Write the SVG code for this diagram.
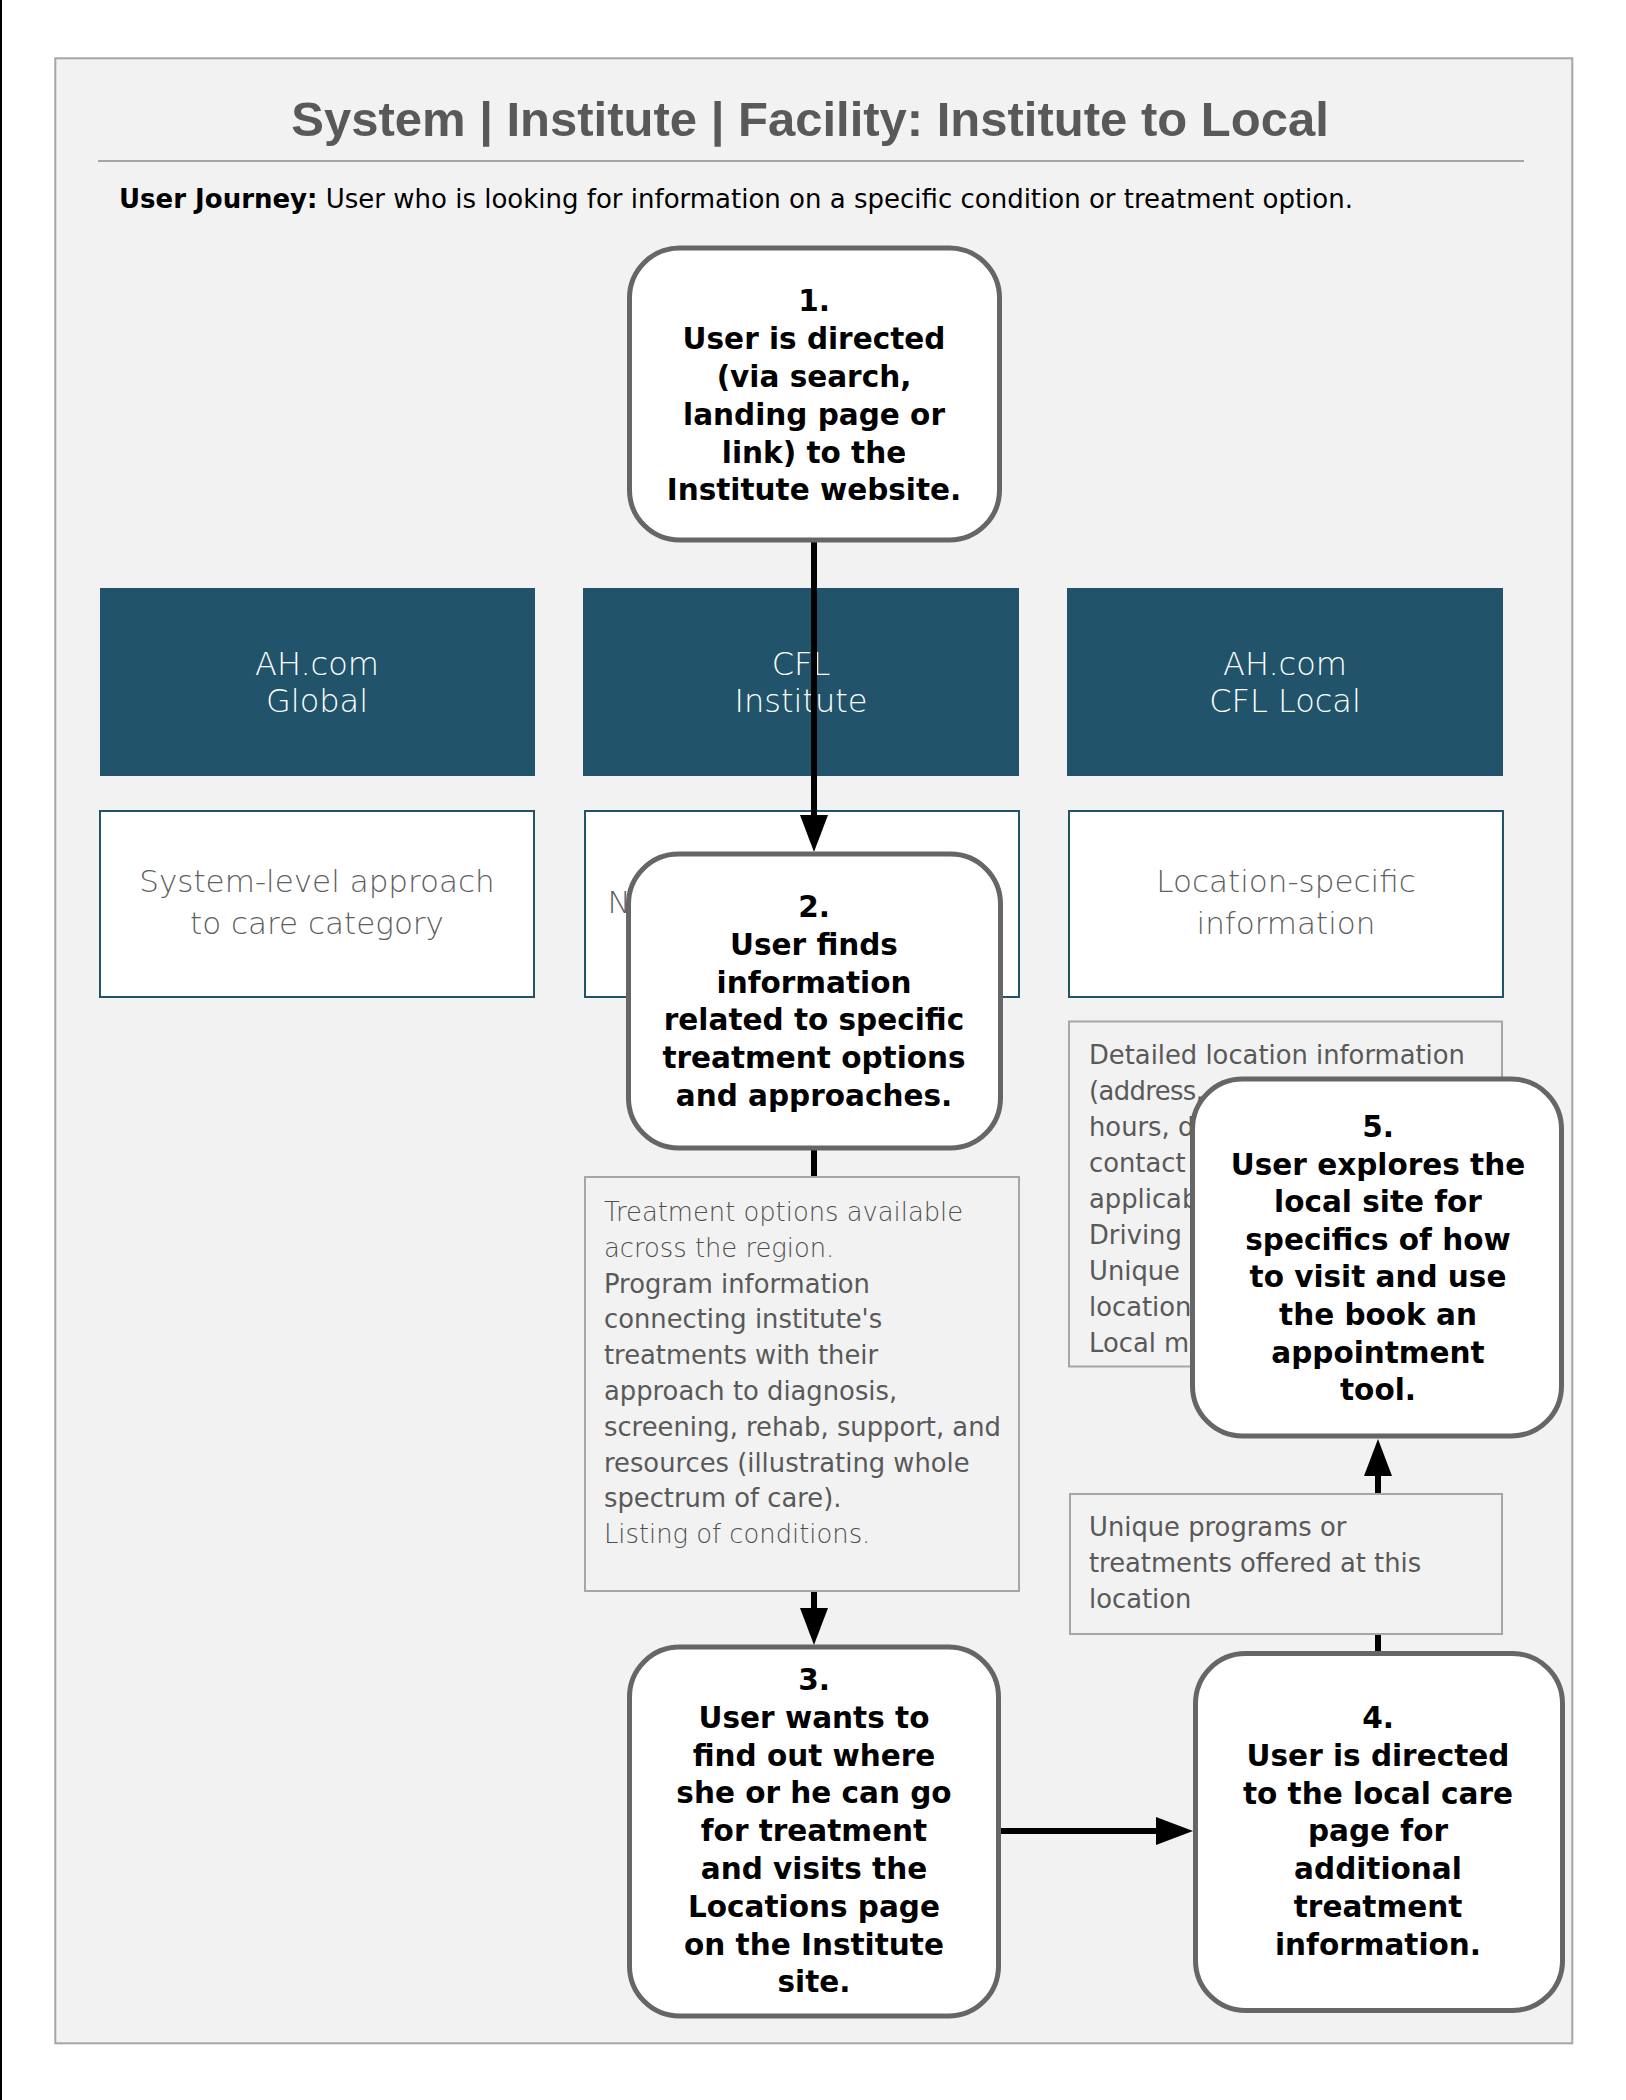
<svg xmlns="http://www.w3.org/2000/svg" width="1626" height="2100" viewBox="0 0 1626 2100">
<style>
  .frame{fill:#f2f2f2;stroke:#a6a6a6;stroke-width:2}
  .title{font-family:"Liberation Sans",Arial,sans-serif;font-weight:bold;font-size:49px;fill:#595959}
  .journey{font-family:"DejaVu Sans",sans-serif;font-size:26px;fill:#000}
  .hdr{fill:#21546b}
  .hdrtxt{font-family:"DejaVu Sans",sans-serif;font-weight:300;font-size:32px;fill:#fff;text-anchor:middle}
  .desc{fill:#fff;stroke:#21546b;stroke-width:2}
  .desctxt{font-family:"DejaVu Sans",sans-serif;font-weight:300;font-size:31px;fill:#5f5f5f;text-anchor:middle}
  .gbox{fill:#f2f2f2;stroke:#a6a6a6;stroke-width:2}
  .gtxt{font-family:"DejaVu Sans",sans-serif;font-size:25.8px;fill:#595959}
  .light{font-weight:300;fill:#4f4f4f}
  .step{fill:#fff;stroke:#666;stroke-width:5}
  .steptxt{font-family:"DejaVu Sans",sans-serif;font-weight:bold;font-size:29.5px;fill:#000;text-anchor:middle}
  .conn{stroke:#000;stroke-width:6;fill:none}
</style>
<defs>
  <marker id="arrow" markerUnits="userSpaceOnUse" markerWidth="38" markerHeight="30" refX="0" refY="14" orient="auto" viewBox="0 0 38 28">
    <path d="M0,0 L37,14 L0,28 Z" fill="#000"/>
  </marker>
</defs>

<rect x="0" y="0" width="2" height="2100" fill="#000"/>
<rect class="frame" x="55.3" y="58.3" width="1517" height="1985"/>

<g id="title">
  <text class="title" x="810" y="136" text-anchor="middle">System | Institute | Facility: Institute to Local</text>
  <line x1="98" y1="161" x2="1524" y2="161" stroke="#a6a6a6" stroke-width="2"/>
  <text class="journey" x="119" y="208"><tspan font-weight="bold">User Journey:</tspan> User who is looking for information on a specific condition or treatment option.</text>
</g>

<g id="col-global">
  <rect class="hdr" x="100" y="588" width="435" height="188"/>
  <text class="hdrtxt" x="317" y="675">AH.com</text>
  <text class="hdrtxt" x="317" y="712">Global</text>
</g>
<g id="col-institute">
  <rect class="hdr" x="583" y="588" width="436" height="188"/>
  <text class="hdrtxt" x="801" y="675">CFL</text>
  <text class="hdrtxt" x="801" y="712">Institute</text>
</g>
<g id="col-local">
  <rect class="hdr" x="1067" y="588" width="436" height="188"/>
  <text class="hdrtxt" x="1285" y="675">AH.com</text>
  <text class="hdrtxt" x="1285" y="712">CFL Local</text>
</g>

<g id="desc-global">
  <rect class="desc" x="100" y="811" width="434" height="186"/>
  <text class="desctxt" x="317" y="892">System-level approach</text>
  <text class="desctxt" x="317" y="934">to care category</text>
</g>
<g id="desc-institute">
  <rect class="desc" x="585" y="811" width="434" height="186"/>
  <text class="desctxt" x="619" y="913" text-anchor="start">N</text>
</g>
<g id="desc-local">
  <rect class="desc" x="1069" y="811" width="434" height="186"/>
  <text class="desctxt" x="1286" y="892">Location-specific</text>
  <text class="desctxt" x="1286" y="934">information</text>
</g>

<g id="connectors">
  <line class="conn" x1="814" y1="542" x2="814" y2="815" marker-end="url(#arrow)"/>
  <line class="conn" x1="814" y1="1148" x2="814" y2="1608" marker-end="url(#arrow)"/>
  <line class="conn" x1="1001" y1="1831" x2="1156" y2="1831" marker-end="url(#arrow)"/>
  <line class="conn" x1="1378" y1="1651" x2="1378" y2="1476" marker-end="url(#arrow)"/>
</g>

<g id="treatment-info">
  <rect class="gbox" x="585" y="1177" width="434" height="414"/>
  <text class="gtxt light" x="604" y="1221">Treatment options available</text>
  <text class="gtxt light" x="604" y="1256.8">across the region.</text>
  <text class="gtxt" x="604" y="1292.6">Program information</text>
  <text class="gtxt" x="604" y="1328.4">connecting institute's</text>
  <text class="gtxt" x="604" y="1364.2">treatments with their</text>
  <text class="gtxt" x="604" y="1400">approach to diagnosis,</text>
  <text class="gtxt" x="604" y="1435.8">screening, rehab, support, and</text>
  <text class="gtxt" x="604" y="1471.6">resources (illustrating whole</text>
  <text class="gtxt" x="604" y="1507.4">spectrum of care).</text>
  <text class="gtxt light" x="604" y="1543.2">Listing of conditions.</text>
</g>

<g id="location-info">
  <rect class="gbox" x="1069" y="1021.5" width="433" height="345"/>
  <text class="gtxt" x="1089" y="1064">Detailed location information</text>
  <text class="gtxt" x="1089" y="1100" letter-spacing="-0.6">(address, p</text>
  <text class="gtxt" x="1089" y="1136">hours, d</text>
  <text class="gtxt" x="1089" y="1172">contact</text>
  <text class="gtxt" x="1089" y="1208">applicab</text>
  <text class="gtxt" x="1089" y="1244">Driving d</text>
  <text class="gtxt" x="1089" y="1280">Unique</text>
  <text class="gtxt" x="1089" y="1316">location</text>
  <text class="gtxt" x="1089" y="1352">Local m</text>
</g>

<g id="unique-programs">
  <rect class="gbox" x="1070" y="1494" width="432" height="140"/>
  <text class="gtxt" x="1089" y="1536">Unique programs or</text>
  <text class="gtxt" x="1089" y="1572">treatments offered at this</text>
  <text class="gtxt" x="1089" y="1608">location</text>
</g>

<g id="step1">
  <rect class="step" x="629.5" y="248" width="370" height="292" rx="50"/>
  <text class="steptxt" x="814" y="311.4">1.</text>
  <text class="steptxt" x="814" y="349.2">User is directed</text>
  <text class="steptxt" x="814" y="387">(via search,</text>
  <text class="steptxt" x="814" y="424.8">landing page or</text>
  <text class="steptxt" x="814" y="462.6">link) to the</text>
  <text class="steptxt" x="814" y="500.4">Institute website.</text>
</g>

<g id="step2">
  <rect class="step" x="628.5" y="854" width="372" height="294" rx="50"/>
  <text class="steptxt" x="814" y="917">2.</text>
  <text class="steptxt" x="814" y="954.8">User finds</text>
  <text class="steptxt" x="814" y="992.6">information</text>
  <text class="steptxt" x="814" y="1030.4">related to specific</text>
  <text class="steptxt" x="814" y="1068.2">treatment options</text>
  <text class="steptxt" x="814" y="1106">and approaches.</text>
</g>

<g id="step3">
  <rect class="step" x="629.5" y="1647" width="369" height="369" rx="50"/>
  <text class="steptxt" x="814" y="1690">3.</text>
  <text class="steptxt" x="814" y="1727.8">User wants to</text>
  <text class="steptxt" x="814" y="1765.6">find out where</text>
  <text class="steptxt" x="814" y="1803.4">she or he can go</text>
  <text class="steptxt" x="814" y="1841.2">for treatment</text>
  <text class="steptxt" x="814" y="1879">and visits the</text>
  <text class="steptxt" x="814" y="1916.8">Locations page</text>
  <text class="steptxt" x="814" y="1954.6">on the Institute</text>
  <text class="steptxt" x="814" y="1992.4">site.</text>
</g>

<g id="step4">
  <rect class="step" x="1195.5" y="1653.5" width="367" height="357" rx="50"/>
  <text class="steptxt" x="1378" y="1728">4.</text>
  <text class="steptxt" x="1378" y="1765.8">User is directed</text>
  <text class="steptxt" x="1378" y="1803.6">to the local care</text>
  <text class="steptxt" x="1378" y="1841.4">page for</text>
  <text class="steptxt" x="1378" y="1879.2">additional</text>
  <text class="steptxt" x="1378" y="1917">treatment</text>
  <text class="steptxt" x="1378" y="1954.8">information.</text>
</g>

<g id="step5">
  <rect class="step" x="1192.5" y="1079" width="369" height="357" rx="50"/>
  <text class="steptxt" x="1378" y="1137">5.</text>
  <text class="steptxt" x="1378" y="1174.6">User explores the</text>
  <text class="steptxt" x="1378" y="1212.2">local site for</text>
  <text class="steptxt" x="1378" y="1249.8">specifics of how</text>
  <text class="steptxt" x="1378" y="1287.4">to visit and use</text>
  <text class="steptxt" x="1378" y="1325">the book an</text>
  <text class="steptxt" x="1378" y="1362.6">appointment</text>
  <text class="steptxt" x="1378" y="1400.2">tool.</text>
</g>
</svg>
